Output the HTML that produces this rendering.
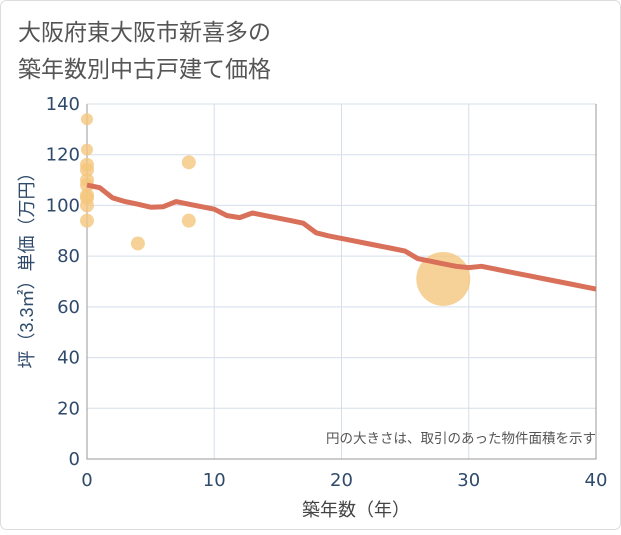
<!DOCTYPE html>
<html><head><meta charset="utf-8"><style>
body{margin:0;background:#fff;}
svg text{font-family:"Liberation Sans","Noto Sans CJK JP",sans-serif;}
svg text.tick{font-family:"DejaVu Sans","Liberation Sans",sans-serif;}
</style></head><body>
<svg width="621" height="530" viewBox="0 0 621 530">
<rect x="0.5" y="0.5" width="620" height="529" rx="6" fill="#fff" stroke="#ddd"/>
<text x="18" y="40" font-size="23" fill="#555">大阪府東大阪市新喜多の</text>
<text x="18" y="77" font-size="23" fill="#555">築年数別中古戸建て価格</text>
<g id="grid"></g><g id="axes"></g><g id="marks"></g>
<text x="596" y="443" font-size="13.5" fill="#555" text-anchor="end">円の大きさは、取引のあった物件面積を示す</text>
<text x="356" y="516" font-size="18" fill="#444" text-anchor="middle">築年数（年）</text>
<text transform="translate(33,266) rotate(-90)" font-size="18" fill="#2f4a6b" text-anchor="middle">坪（3.3㎡）単価（万円）</text>
</svg>
<script>
const xTicks=[0,10,20,30,40];
const yTicks=[0,20,40,60,80,100,120,140];
const lineX=[0,1,2,3,4,5,6,7,8,9,10,11,12,13,14,15,16,17,18,19,20,21,22,23,24,25,26,27,28,29,30,31,32,33,34,35,36,37,38,39,40];
const lineY=[108,107,103,101.5,100.5,99.3,99.5,101.5,100.5,99.5,98.5,96,95.2,97,96,95,94,93,89.2,88,87,86,85,84,83,82,79,78,77,76,75.5,76,75,74,73,72,71,70,69,68,67];
const ptX=[0,0,0,0,0,0,0,0,0,0,4,8,8,28];
const ptY=[134,122,116,114,110,108,104,103,100,94,85,117,94,71];
const ptR=[6,6,7,7,7,7,7,7,7,7,7,7,7,27];
const X0=87,X1=596,Y0=459,Y1=104;
const sx=v=>X0+(v-0)/40*(X1-X0);
const sy=v=>Y0-(v-0)/140*(Y0-Y1);
const NS="http://www.w3.org/2000/svg";
function mk(t,a,p){const e=document.createElementNS(NS,t);for(const k in a)e.setAttribute(k,a[k]);p.appendChild(e);return e;}
const grid=document.getElementById('grid'),axes=document.getElementById('axes'),marks=document.getElementById('marks');
yTicks.forEach(v=>{
 const l=mk('line',{x1:X0,x2:X1,y1:sy(v),y2:sy(v),stroke:'#d5dfea','stroke-width':1},grid);
 
 
 const t=mk('text',{class:'tick',x:X0-7,y:sy(v)+6,'font-size':18,fill:'#2f4a6b','text-anchor':'end'},axes);
 t.textContent=v;
 
 
});
xTicks.forEach(v=>{
 const l=mk('line',{x1:sx(v),x2:sx(v),y1:Y1,y2:Y0,stroke:'#d5dfea','stroke-width':1},grid);
 
 
 const t=mk('text',{class:'tick',x:sx(v),y:Y0+27,'font-size':18,fill:'#2f4a6b','text-anchor':'middle'},axes);
 t.textContent=v;
 
 
});
const ax=mk('path',{d:`M${X0} ${Y1}V${Y0}H${X1}V${Y1}`,fill:'none',stroke:'#999','stroke-width':1},axes);


ptX.forEach((x,i)=>{
 const c=mk('circle',{cx:sx(x),cy:sy(ptY[i]),r:ptR[i],fill:'#f5c77e','fill-opacity':0.8},marks);
 
 
});
const d=lineX.map((x,i)=>(i?'L':'M')+sx(x).toFixed(1)+' '+sy(lineY[i]).toFixed(1)).join('');
const p=mk('path',{d:d,fill:'none',stroke:'#d9705a','stroke-width':5,'stroke-linejoin':'round'},marks);


</script>
</body></html>
